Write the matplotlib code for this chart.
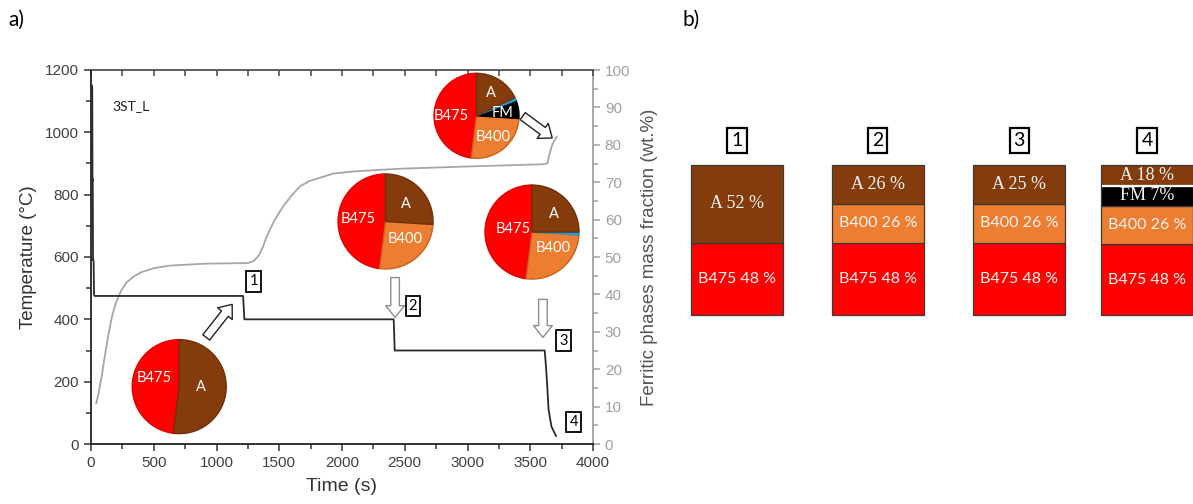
import matplotlib
matplotlib.use("Agg")
import matplotlib.pyplot as plt
from matplotlib.patches import FancyArrowPatch
from matplotlib.ticker import MultipleLocator

# ---------------- data ----------------
time_temp = [8, 10, 12, 14, 16, 18, 21, 24, 28, 1212, 1222, 2412, 2420, 3615, 3625, 3634, 3646, 3669, 3705]
temperature = [1150, 1140, 845, 850, 590, 592, 585, 480, 475, 475, 400, 400, 300, 300, 250, 196, 110, 56, 26]

time_frac = [42, 60, 85, 110, 142, 170, 199, 240, 284, 340, 398, 500, 626, 900, 1252, 1300, 1337,
             1370, 1400, 1460, 1530, 1600, 1665, 1740, 1825, 1930, 2100, 2460, 3000, 3600,
             3636, 3651, 3670, 3689, 3710]
ferrite_frac = [10.9, 13.5, 18.1, 23.5, 29.8, 34.5, 37.8, 41.0, 43.2, 44.8, 45.9, 47.0, 47.7, 48.2,
                48.4, 49.0, 50.4, 52.7, 55.5, 59.7, 63.5, 66.5, 68.9, 70.3, 71.2, 72.3, 72.9,
                73.6, 74.2, 74.8, 75.0, 77.2, 79.5, 81.0, 82.1]

phase_colors = {"B475": "#FF0000", "B400": "#ED7D31", "A": "#843C0C", "FM": "#000000", "FMi": "#1E9AD6"}
phase_edges = {"B475": "#E00000", "B400": "#C8641E", "A": "#6E300A", "FM": "#000000", "FMi": "#1E9AD6"}

pie_phases = [["B475", "A"],
              ["B475", "B400", "A"],
              ["B475", "B400", "FMi", "A"],
              ["B475", "B400", "FM", "FMi", "A"]]
pie_values = [[48, 52],
              [48, 26, 26],
              [48, 26, 1, 25],
              [48, 26, 7, 1, 18]]
pie_labels = [["B475", "A"],
              ["B475", "B400", "A"],
              ["B475", "B400", "", "A"],
              ["B475", "B400", "FM", "", "A"]]

bar_ids = ["1", "2", "3", "4"]
bar_phases = [["B475", "A"],
              ["B475", "B400", "A"],
              ["B475", "B400", "A"],
              ["B475", "B400", "FM", "A"]]
bar_heights = [[48, 52],
               [48, 26, 26],
               [48, 26, 26],
               [47, 25.5, 13.5, 14]]
bar_texts = [["B475 48 %", "A 52 %"],
             ["B475 48 %", "B400 26 %", "A 26 %"],
             ["B475 48 %", "B400 26 %", "A 25 %"],
             ["B475 48 %", "B400 26 %", "FM 7%", "A 18 %"]]

# ---------------- layout ----------------
W, H = 1193, 504
fig = plt.figure(figsize=(W / 100, H / 100), dpi=100)
plt.rcParams["font.family"] = ["Liberation Sans", "DejaVu Sans"]

L, R, T, B = 91, 593, 70, 444
ax = fig.add_axes([L / W, 1 - B / H, (R - L) / W, (B - T) / H])
sx = (R - L) / 4000.0
sy = (B - T) / 1200.0

dark = "#333333"
ax.plot(time_temp, temperature, color="#2b2b2b", lw=1.3, zorder=3)
ax.set_xlim(0, 4000)
ax.set_ylim(0, 1200)
ax.xaxis.set_major_locator(MultipleLocator(500))
ax.xaxis.set_minor_locator(MultipleLocator(250))
ax.yaxis.set_major_locator(MultipleLocator(200))
ax.yaxis.set_minor_locator(MultipleLocator(100))
ax.tick_params(axis="both", which="major", direction="out", length=5, width=1.1,
               colors=dark, labelsize=11, labelcolor="#404040")
ax.tick_params(axis="both", which="minor", direction="out", length=3.5, width=1.1, colors=dark)
for s in ["left", "bottom"]:
    ax.spines[s].set_linewidth(1.3)
    ax.spines[s].set_color("#222222")
ax.spines["top"].set_linewidth(1.2)
ax.spines["top"].set_color("#444444")
ax.spines["right"].set_visible(False)
ax.set_xlabel("Time (s)", fontsize=14, color=dark, labelpad=6)
ax.set_ylabel("Temperature (°C)", fontsize=13.5, color=dark, labelpad=6)

top = ax.secondary_xaxis("top")
top.xaxis.set_major_locator(MultipleLocator(500))
top.xaxis.set_minor_locator(MultipleLocator(250))
top.tick_params(which="both", direction="in", length=4.5, width=1.1, colors="#444444",
                labeltop=False)
top.spines["top"].set_visible(False)

ax2 = ax.twinx()
ax2.plot(time_frac, ferrite_frac, color="#A6A6A6", lw=1.3, zorder=2)
ax2.set_ylim(0, 100)
ax2.yaxis.set_major_locator(MultipleLocator(10))
ax2.yaxis.set_minor_locator(MultipleLocator(5))
gray = "#A0A0A0"
ax2.tick_params(axis="y", which="major", direction="out", length=5, width=1.1, colors=gray,
                labelsize=11, labelcolor="#A0A0A0")
ax2.tick_params(axis="y", which="minor", direction="out", length=3.5, width=1.1, colors=gray)
for s in ["left", "bottom", "top"]:
    ax2.spines[s].set_visible(False)
ax2.spines["right"].set_color(gray)
ax2.spines["right"].set_linewidth(1.3)
ax2.set_ylabel("Ferritic phases mass fraction (wt.%)", fontsize=13.5, color="#555555", labelpad=8)

ax.set_zorder(ax2.get_zorder() + 1)
ax.patch.set_visible(False)

ax.text(315, 1083, "3ST_L", fontsize=10, family="Lato", color="#222222", ha="center", va="center")

# pies: centre (time, temperature), radius in px, label offsets in px
pie_centers = [(703, 184), (2347, 714), (3514, 680), (3072, 1053)]
pie_radius = [47, 47.5, 47, 42.5]
pie_label_offsets = [[(-25, 9), (22, 0)],
                     [(-27, 2.5), (19.5, -17.5), (20.5, 17.5)],
                     [(-18.5, 3), (20.7, -16.3), None, (22, 18)],
                     [(-25, 0), (17, -21), (26, 3), None, (14.5, 22.5)]]
pad = 1.08
for (ct, cT), r, phases, vals, labs, offs in zip(pie_centers, pie_radius, pie_phases,
                                                 pie_values, pie_labels, pie_label_offsets):
    hw = r * pad / sx
    hh = r * pad / sy
    pax = ax.inset_axes([ct - hw, cT - hh, 2 * hw, 2 * hh], transform=ax.transData, zorder=5)
    wedges, _ = pax.pie(vals, colors=[phase_colors[p] for p in phases], startangle=90,
                        counterclock=True, radius=1,
                        wedgeprops=dict(linewidth=1.0))
    for w, p in zip(wedges, phases):
        w.set_edgecolor(phase_edges[p])
    pax.set_xlim(-pad, pad)
    pax.set_ylim(-pad, pad)
    pax.set_aspect("equal")
    pax.axis("off")
    for lab, off in zip(labs, offs):
        if lab and off is not None:
            pax.text(off[0] / r, off[1] / r, lab, ha="center", va="center",
                     color="white", fontsize=10.5, family="Lato")

# hollow arrows
arrows = [((918, 342), (1125, 448), "#222222"),
          ((2423, 534), (2423, 406), "#8C8C8C"),
          ((3601, 464), (3601, 342), "#8C8C8C"),
          ((3440, 1052), (3675, 982), "#222222")]
for a, b, ec in arrows:
    ax.add_patch(FancyArrowPatch(a, b, arrowstyle="simple,head_length=8.5,head_width=13.5,tail_width=6.2",
                                 mutation_scale=1, fc="white", ec=ec, lw=1.0,
                                 shrinkA=0, shrinkB=0, transform=ax.transData, zorder=6))

# step numbers on the graph
step_marks = [(1296, 522), (2566, 442), (3765, 332), (3846, 71)]
for sid, (tx, ty) in zip(bar_ids, step_marks):
    ax.text(tx, ty, sid, ha="center", va="center", fontsize=10.5, family="Lato",
            color="black", zorder=7,
            bbox=dict(boxstyle="square,pad=0.22", fc="white", ec="black", lw=1.3))

# ---------------- panel b ----------------
bx = fig.add_axes([680 / W, 1 - 315 / H, (W - 680) / W, (315 - 164.5) / H])
bx.set_xlim(680, W)
bx.set_ylim(0, 100)
bx.axis("off")
bar_left = [691, 831.7, 973.3, 1101]
bar_w = 92
for i, (phases, hs, txts) in enumerate(zip(bar_phases, bar_heights, bar_texts)):
    x0 = bar_left[i]
    bottom = 0
    for p, h, t in zip(phases, hs, txts):
        bx.bar(x0, h, width=bar_w, bottom=bottom, align="edge", color=phase_colors[p],
               edgecolor="#3a3a3a", linewidth=0.9, clip_on=False)
        serif = p in ("A", "FM")
        bx.text(x0 + bar_w / 2, bottom + h / 2, t, ha="center", va="center",
                color="#F4F4F4", fontsize=13 if serif else 11.5,
                family="Liberation Serif" if serif else "Lato", clip_on=False)
        if p == "FM":
            bx.hlines(bottom + h, x0 + 0.5, x0 + bar_w - 0.5, color="white", lw=1.6, zorder=4)
        bottom += h
    bx.text(x0 + bar_w / 2, 116, bar_ids[i], ha="center", va="center", fontsize=14,
            family="Lato", color="black", clip_on=False,
            bbox=dict(boxstyle="square,pad=0.2", fc="white", ec="black", lw=1.6))

fig.text(8 / W, 1 - 20 / H, "a)", fontsize=15, family="Lato", va="center", ha="left")
fig.text(683 / W, 1 - 20 / H, "b)", fontsize=15, family="Lato", va="center", ha="left")

fig.savefig("out.png", dpi=100)
